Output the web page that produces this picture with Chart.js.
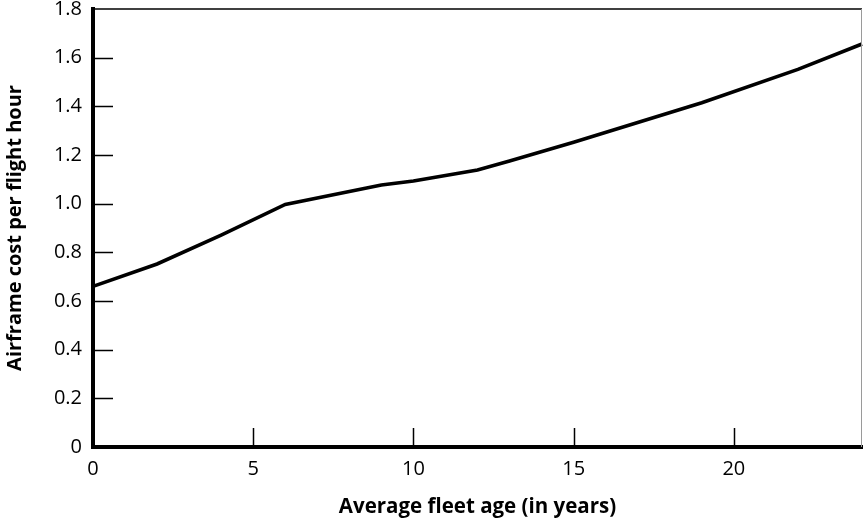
<!DOCTYPE html>
<html>
<head>
<meta charset="utf-8">
<script src="https://cdn.jsdelivr.net/npm/chart.js@4"></script>
<style>
html,body{margin:0;padding:0;background:#fff;}
#wrap{width:863px;height:520px;}
</style>
</head>
<body>
<div id="wrap"><canvas id="c" width="863" height="520"></canvas></div>
<script>
const ages  = [0, 2, 4, 6, 9, 10, 12, 13, 15, 19, 22, 24];
const costs = [0.66, 0.752, 0.871, 0.997, 1.077, 1.093, 1.138, 1.175, 1.252, 1.415, 1.552, 1.656];
const xTicks = [0, 5, 10, 15, 20];
const yTicks = [0, 0.2, 0.4, 0.6, 0.8, 1.0, 1.2, 1.4, 1.6, 1.8];
const xTitle = 'Average fleet age (in years)';
const yTitle = 'Airframe cost per flight hour';

const FONT = "'Open Sans', 'Noto Sans', sans-serif";

const frame = {
  id: 'frame',
  afterDatasetsDraw(chart) {
    const {ctx, chartArea: a, scales: {x, y}} = chart;
    ctx.save();
    ctx.strokeStyle = '#000';
    ctx.lineWidth = 1.5;
    ctx.beginPath();
    yTicks.forEach(v => {
      if (v <= 0 || v >= 1.8) return;
      const py = Math.round(y.getPixelForValue(v)) + 0.5;
      ctx.moveTo(a.left, py); ctx.lineTo(a.left + 20, py);
    });
    xTicks.forEach(v => {
      if (v <= 0) return;
      const px = Math.round(x.getPixelForValue(v)) + 0.5;
      ctx.moveTo(px, a.bottom); ctx.lineTo(px, a.bottom - 19);
    });
    ctx.stroke();
    ctx.lineWidth = 1.5;
    ctx.beginPath();
    ctx.moveTo(a.left, a.top); ctx.lineTo(a.right, a.top);
    ctx.stroke();
    ctx.strokeStyle = '#9a9a9a';
    ctx.lineWidth = 1;
    ctx.beginPath();
    ctx.moveTo(a.right - 0.5, a.top); ctx.lineTo(a.right - 0.5, a.bottom);
    ctx.stroke();
    ctx.restore();
  }
};

new Chart(document.getElementById('c'), {
  type: 'line',
  data: {
    datasets: [{
      data: ages.map((a, i) => ({x: a, y: costs[i]})),
      borderColor: '#000',
      borderWidth: 3.6,
      pointRadius: 0,
      tension: 0,
      fill: false,
      clip: false
    }]
  },
  options: {
    responsive: false,
    animation: false,
    devicePixelRatio: 1,
    layout: {padding: {top: 9, right: 1, left: 0, bottom: 0}},
    plugins: {legend: {display: false}, tooltip: {enabled: false}},
    scales: {
      x: {
        type: 'linear', min: 0, max: 24,
        afterBuildTicks: s => { s.ticks = xTicks.map(v => ({value: v})); },
        afterFit: s => { s.height = 73; s.paddingLeft = 0; s.paddingRight = 0; },
        grid: {display: false, drawTicks: false},
        border: {display: true, color: '#000', width: 4},
        ticks: {color: '#000', padding: 10, font: {family: FONT, size: 20}, maxRotation: 0},
        title: {display: true, text: xTitle, color: '#000', padding: {top: 0, bottom: 1},
                font: {family: FONT, size: 20.5, weight: 'bold'}}
      },
      y: {
        type: 'linear', min: 0, max: 1.8,
        afterBuildTicks: s => { s.ticks = yTicks.map(v => ({value: v})); },
        afterFit: s => { s.width = 93; s.paddingTop = 0; s.paddingBottom = 0; },
        grid: {display: false, drawTicks: false},
        border: {display: true, color: '#000', width: 4},
        ticks: {color: '#000', padding: 11, font: {family: FONT, size: 20},
                callback: v => v === 0 ? '0' : v.toFixed(1)},
        title: {display: true, text: yTitle, color: '#000', padding: {top: 3, bottom: 0},
                font: {family: FONT, size: 20, weight: 'bold'}}
      }
    }
  },
  plugins: [frame]
});
</script>
</body>
</html>
